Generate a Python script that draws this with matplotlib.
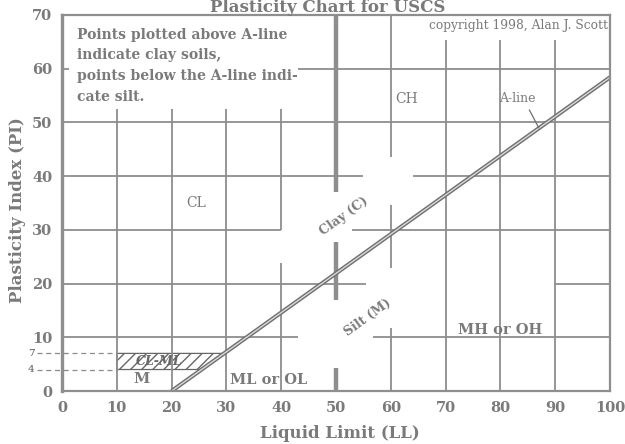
import matplotlib
matplotlib.use("Agg")
import matplotlib.pyplot as plt

# axis ticks
LL_TICKS = [0, 10, 20, 30, 40, 50, 60, 70, 80, 90, 100]
PI_TICKS = [0, 10, 20, 30, 40, 50, 60, 70]
PI_SPLIT = [4, 7]          # CL-ML band limits

# A-line, PI = 0.73 (LL - 20)
A_LINE_LL = [20, 100]
A_LINE_PI = [0, 58.4]

# grid pieces (value, start, stop); the original has gaps round the labels
H_SEGMENTS = [
    (60, 43, 100), (60, 0, 1.2),
    (50, 0, 100),
    (40, 0, 55), (40, 64, 100),
    (30, 0, 40), (30, 53, 100),
    (20, 0, 55.5), (20, 90, 100),
    (10, 0, 43), (10, 56.7, 100),
]
V_SEGMENTS = [
    (10, 0, 52.5), (20, 0, 52.5), (30, 0, 52.5),
    (40, 0, 23.8), (40, 30, 52.5),
    (60, 0, 11.7), (60, 22.9, 34.6), (60, 43.6, 70),
    (70, 0, 65.3), (80, 0, 65.3), (90, 0, 65.3),
]
LL50_SEGMENTS = [(0, 4.3), (17, 27.7), (37, 70)]

NOTE = "Points plotted above A-line\nindicate clay soils,\npoints below the A-line indi-\ncate silt."
COPYRIGHT = "copyright 1998, Alan J. Scott"

GRID = "#8e8e8e"
TXT = "#7a7a7a"
SERIF = "DejaVu Serif"


def a_line_ll(pi):
    return A_LINE_LL[0] + pi / 0.73


fig = plt.figure(figsize=(6.25, 4.44), dpi=100)
ax = fig.add_axes([62 / 625, 1 - 391 / 444, 548 / 625, 376 / 444])
ax.set_xlim(0, 100)
ax.set_ylim(0, 70)

for s in ax.spines.values():
    s.set_color(GRID)
    s.set_linewidth(1.6)
ax.spines["left"].set_linewidth(2.4)

for pi, a, b in H_SEGMENTS:
    ax.plot([a, b], [pi, pi], color=GRID, lw=1.3, solid_capstyle="butt")
for ll, a, b in V_SEGMENTS:
    ax.plot([ll, ll], [a, b], color=GRID, lw=1.3, solid_capstyle="butt")
for a, b in LL50_SEGMENTS:
    ax.plot([50, 50], [a, b], color=GRID, lw=3.2, solid_capstyle="butt")

# A-line drawn as a double stroke
ax.plot(A_LINE_LL, A_LINE_PI, color="#6f6f6f", lw=3.0, solid_capstyle="butt")
ax.plot(A_LINE_LL, A_LINE_PI, color="#d8d8d8", lw=1.0, solid_capstyle="butt")
ax.plot([85.3, 87], [52.3, 49], color="#6f6f6f", lw=0.9)

# CL-ML band
lo, hi = PI_SPLIT
ax.fill([10, a_line_ll(lo), a_line_ll(hi), 10], [lo, lo, hi, hi],
        facecolor="none", edgecolor="#666666", hatch="///", lw=0.9)
for pi in PI_SPLIT:
    ax.plot([-4.6, 10], [pi, pi], color="#8a8a8a", lw=0.9,
            linestyle=(0, (4, 3)), clip_on=False)
    ax.text(-5.0, pi, str(pi), ha="right", va="center", fontsize=7.5,
            family=SERIF, color="#555555")

ax.set_xticks(LL_TICKS)
ax.set_yticks(PI_TICKS)
ax.tick_params(length=0, pad=7, labelsize=10.5, labelcolor=TXT)
for lab in ax.get_xticklabels() + ax.get_yticklabels():
    lab.set_family(SERIF)
    lab.set_weight("bold")

# text in the plot
ax.text(2.7, 67.6, NOTE, ha="left", va="top", fontsize=10, family=SERIF,
        weight="bold", color=TXT, linespacing=1.6)
ax.text(99.6, 68.0, COPYRIGHT, ha="right", va="center", fontsize=8.8,
        family=SERIF, color=TXT)
ax.text(24.5, 35, "CL", ha="center", va="center", fontsize=10, family=SERIF, color=TXT)
ax.text(62.8, 54.3, "CH", ha="center", va="center", fontsize=10, family=SERIF, color=TXT)
ax.text(83, 54.4, "A-line", ha="center", va="center", fontsize=9, family=SERIF, color=TXT)
ax.text(80, 11.4, "MH or OH", ha="center", va="center", fontsize=10.5,
        family=SERIF, weight="bold", color=TXT)
ax.text(37.7, 2.1, "ML or OL", ha="center", va="center", fontsize=10.5,
        family=SERIF, weight="bold", color=TXT)
ax.text(14.5, 2.3, "M", ha="center", va="center", fontsize=10.5,
        family=SERIF, weight="bold", color=TXT)
ax.text(17.8, 5.5, "CL-ML", ha="center", va="center", fontsize=9,
        family=SERIF, style="italic", weight="bold", color="#666666")
ax.text(51.4, 32.6, "Clay (C)", ha="center", va="center", rotation=36,
        fontsize=9, family=SERIF, weight="bold", color=TXT)
ax.text(55.7, 13.6, "Silt (M)", ha="center", va="center", rotation=36,
        fontsize=9, family=SERIF, weight="bold", color=TXT)

fig.text(340 / 625, 1 - 433 / 444, "Liquid Limit (LL)", ha="center", va="center",
         fontsize=12, family=SERIF, weight="bold", color=TXT)
fig.text(18 / 625, 1 - 210 / 444, "Plasticity Index (PI)", ha="center", va="center",
         rotation=90, fontsize=12, family=SERIF, weight="bold", color=TXT)
fig.text(328 / 625, 1 - 12.5 / 444, "Plasticity Chart for USCS", ha="center",
         va="baseline", fontsize=12, family=SERIF, weight="bold", color=TXT)

fig.savefig("out.png", dpi=100)
